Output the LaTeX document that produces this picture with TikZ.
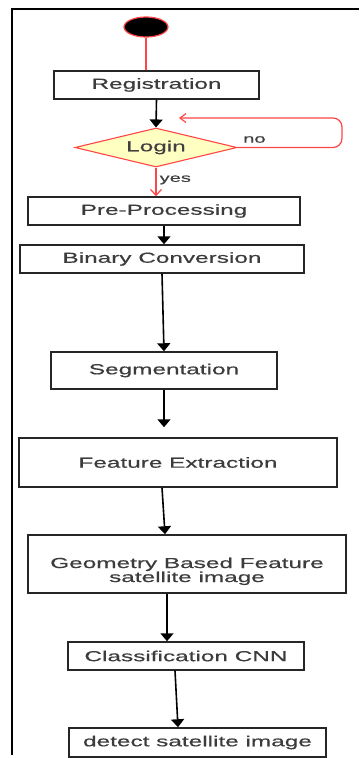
\documentclass[tikz,border=0pt]{standalone}
\usepackage{fontspec}
\setmainfont{Liberation Sans}[FakeStretch=1.68, FakeBold=0.5]
\usetikzlibrary{shapes.geometric, arrows.meta, positioning}
\definecolor{actred}{HTML}{FF4545}
\definecolor{actyellow}{HTML}{FFFFC2}
\definecolor{actgray}{HTML}{3C3C3C}

\begin{document}
\begin{tikzpicture}[
    x=1pt, y=-1pt,
    font=\fontsize{14.5}{14}\selectfont,
    block/.style={rectangle, draw=black!85, line width=1.5pt, text=actgray, align=center, inner sep=0pt},
    decision/.style={diamond, draw=actred, line width=1.1pt, fill=actyellow, text=black!75, aspect=4.15, inner sep=0pt, minimum width=162pt, minimum height=39pt},
    startnode/.style={ellipse, draw=actred, line width=1.2pt, fill=black, minimum width=44pt, minimum height=20pt, inner sep=0pt},
    tag/.style={text=black!75, inner sep=0pt, font=\fontsize{12}{12}\selectfont},
    line/.style={draw, line width=1.6pt, -{Triangle[width=13pt,length=8pt]}},
    redline/.style={draw=actred, line width=1.2pt},
    open/.style={-{Straight Barb[length=6pt,width=11pt]}}
]
    \useasboundingbox (0,0) rectangle (359,758);

    % Frame
    \draw [line width=1.2pt] (12,755) -- (12,9) -- (359,9);

    % Nodes
    \node [startnode] (start) at (146,27) {};
    \node [block, minimum width=205pt, minimum height=28pt] (reg) at (156.5,85) {Registration};
    \node [decision] (login) at (156,147.5) {Login};
    \node [block, minimum width=272pt, minimum height=28pt] (prep) at (164,211) {Pre-Processing};
    \node [block, minimum width=284pt, minimum height=28pt] (binary) at (162,259) {Binary Conversion};
    \node [block, minimum width=226pt, minimum height=37pt] (seg) at (164,370.5) {Segmentation};
    \node [block, minimum width=318pt, minimum height=49pt] (feat) at (178,462.5) {Feature Extraction};
    \node [block, minimum width=318pt, minimum height=58pt, text height=36pt, text depth=0pt] (geom) at (187,564) {Geometry Based Feature\\satellite image};
    \node [block, minimum width=236pt, minimum height=28pt] (cls) at (186,656) {Classification CNN};
    \node [block, minimum width=257pt, minimum height=29pt] (detect) at (197.5,742.5) {detect satellite image};
    \coordinate (retry) at (179,118);
    \node [tag, anchor=south west] (no) at (243,143) {no};

    % Edges
    \path [redline] (start.south) -- (start.south |- reg.north);
    \path [line] (reg.south) -- (login.north);
    \path [redline, open] (login.south) -- (login.south |- prep.north)
        node [tag, right=3pt, pos=0.43] (yes) {yes};
    \path [redline, rounded corners=9pt, -{Straight Barb[length=6pt,width=9pt]}]
        (login.east) -- (342,147.5) -- (342,118) -- (retry);
    \path [line] (prep.south) -- (prep.south |- binary.north);
    \path [line] (binary.south) -- (seg.north);
    \path [line, shorten >=10pt] (seg.south) -- (seg.south |- feat.north);
    \path [line] ([xshift=-16pt]feat.south) -- ([xshift=-22pt]geom.north);
    \path [line] ([xshift=-20pt]geom.south) -- ([xshift=-19pt]cls.north);
    \path [line] ([xshift=-11pt]cls.south) -- ([xshift=-19.5pt]detect.north);
\end{tikzpicture}
\end{document}
